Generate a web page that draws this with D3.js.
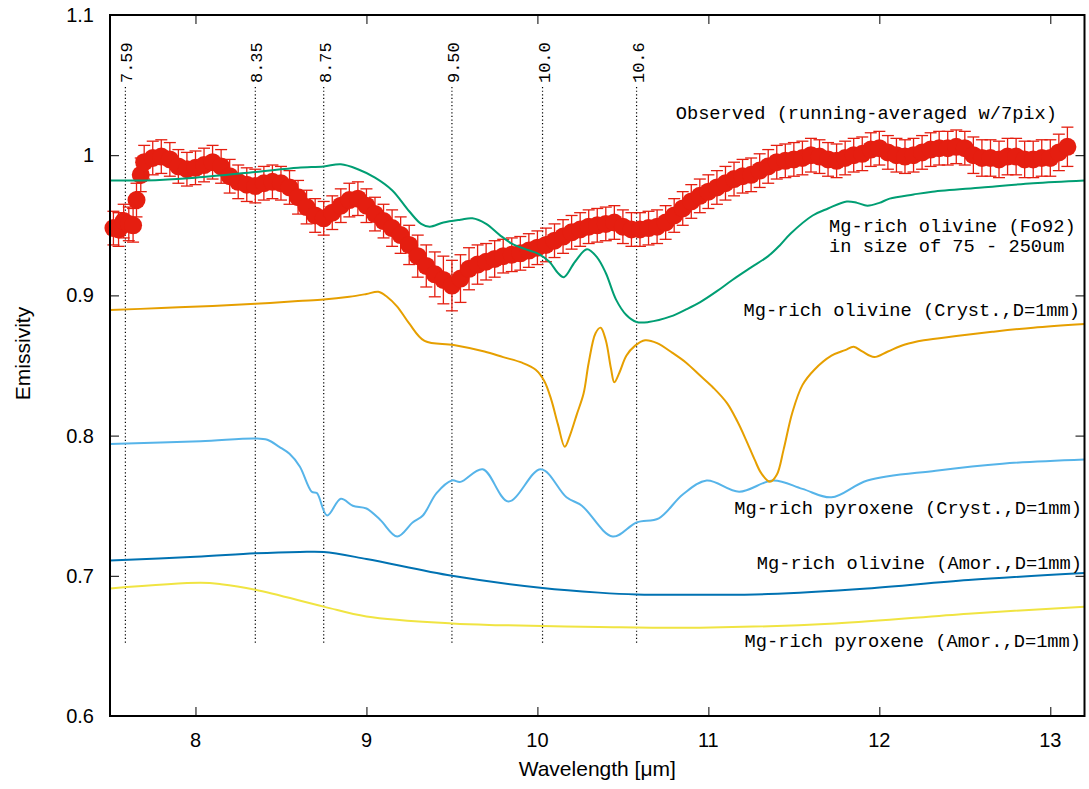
<!DOCTYPE html>
<html>
<head>
<meta charset="utf-8">
<script src="https://cdn.jsdelivr.net/npm/d3@7"></script>
<style>
  body { margin: 0; background: #fff; }
  .tick-label { font-family: "Liberation Sans", Arial, sans-serif; font-size: 20px; fill: #000; }
  .axis-title { font-family: "Liberation Sans", Arial, sans-serif; font-size: 21px; fill: #000; }
  .key { font-family: "Liberation Mono", monospace; font-size: 18.7px; fill: #000; }
  .mark-label { font-family: "Liberation Mono", monospace; font-size: 17px; fill: #000; }
</style>
</head>
<body>
<svg id="emissivity" width="1089" height="789"></svg>
<script>
// observed spectrum (running-averaged w/7pix)
var obsWave = [7.52, 7.55, 7.58, 7.61, 7.635, 7.655, 7.68, 7.70, 7.75, 7.80, 7.85, 7.90, 7.95, 8.00, 8.05, 8.10, 8.15, 8.20, 8.25, 8.30,
  8.35, 8.40, 8.45, 8.50, 8.55, 8.60, 8.65, 8.70, 8.75, 8.80, 8.85, 8.90, 8.95, 9.00, 9.05, 9.10, 9.15, 9.20, 9.25, 9.30,
  9.35, 9.40, 9.45, 9.50, 9.55, 9.60, 9.65, 9.70, 9.75, 9.80, 9.85, 9.90, 9.95, 10.00, 10.05, 10.10, 10.15, 10.20, 10.25, 10.30,
  10.35, 10.40, 10.45, 10.50, 10.55, 10.60, 10.65, 10.70, 10.75, 10.80, 10.85, 10.90, 10.95, 11.00, 11.05, 11.10, 11.15, 11.20, 11.25, 11.30,
  11.35, 11.40, 11.45, 11.50, 11.55, 11.60, 11.65, 11.70, 11.75, 11.80, 11.85, 11.90, 11.95, 12.00, 12.05, 12.10, 12.15, 12.20, 12.25, 12.30,
  12.35, 12.40, 12.45, 12.50, 12.55, 12.60, 12.65, 12.70, 12.75, 12.80, 12.85, 12.90, 12.95, 13.00, 13.05, 13.10];
var obsValue = [0.948, 0.947, 0.953, 0.951, 0.950, 0.968, 0.986, 0.995, 0.998, 0.999, 0.997, 0.992, 0.990, 0.991, 0.993, 0.995, 0.992, 0.985, 0.981, 0.979,
  0.978, 0.980, 0.981, 0.980, 0.977, 0.970, 0.963, 0.957, 0.955, 0.959, 0.964, 0.968, 0.969, 0.964, 0.958, 0.953, 0.948, 0.943, 0.936, 0.928,
  0.921, 0.915, 0.911, 0.907, 0.912, 0.919, 0.922, 0.924, 0.926, 0.928, 0.929, 0.930, 0.932, 0.934, 0.936, 0.939, 0.942, 0.945, 0.947, 0.949,
  0.950, 0.951, 0.952, 0.949, 0.947, 0.947, 0.948, 0.949, 0.952, 0.957, 0.962, 0.967, 0.971, 0.974, 0.977, 0.980, 0.983, 0.985, 0.986, 0.989,
  0.992, 0.995, 0.996, 0.997, 0.998, 1.000, 0.999, 0.997, 0.996, 0.998, 1.000, 1.001, 1.004, 1.005, 1.002, 1.000, 0.999, 1.000, 1.002, 1.004,
  1.005, 1.005, 1.006, 1.005, 1.000, 0.998, 0.998, 0.997, 0.999, 0.999, 0.997, 0.997, 0.998, 0.998, 1.002, 1.006];
var obsError = [0.012, 0.012, 0.012, 0.012, 0.012, 0.012, 0.012, 0.012, 0.012, 0.012, 0.012, 0.012, 0.012, 0.012, 0.012, 0.012, 0.012, 0.012, 0.012, 0.012,
  0.012, 0.012, 0.012, 0.012, 0.012, 0.012, 0.012, 0.012, 0.012, 0.012, 0.012, 0.012, 0.012, 0.012, 0.012, 0.012, 0.013, 0.013, 0.014, 0.015,
  0.015, 0.016, 0.017, 0.018, 0.017, 0.015, 0.014, 0.013, 0.013, 0.012, 0.012, 0.012, 0.012, 0.012, 0.012, 0.012, 0.012, 0.012, 0.012, 0.012,
  0.012, 0.012, 0.012, 0.012, 0.012, 0.012, 0.012, 0.012, 0.012, 0.012, 0.012, 0.012, 0.012, 0.012, 0.012, 0.012, 0.012, 0.012, 0.012, 0.012,
  0.012, 0.012, 0.012, 0.012, 0.012, 0.012, 0.012, 0.012, 0.012, 0.012, 0.012, 0.012, 0.012, 0.012, 0.012, 0.012, 0.012, 0.012, 0.012, 0.012,
  0.012, 0.012, 0.012, 0.012, 0.013, 0.013, 0.013, 0.013, 0.013, 0.013, 0.013, 0.013, 0.013, 0.013, 0.013, 0.014];

// Mg-rich olivine (Fo92), 75 - 250um
var foWave = [7.50, 7.70, 8.00, 8.35, 8.60, 8.75, 8.85, 8.95, 9.05, 9.15, 9.25, 9.32, 9.37, 9.45, 9.55, 9.62, 9.70, 9.78, 9.85, 9.93,
  10.00, 10.07, 10.12, 10.155, 10.22, 10.29, 10.35, 10.40, 10.46, 10.52, 10.58, 10.65, 10.78, 10.87, 10.95, 11.05, 11.14, 11.25, 11.35, 11.42,
  11.48, 11.61, 11.70, 11.81, 11.87, 11.93, 12.00, 12.06, 12.20, 12.31, 12.60, 12.90, 13.20];
var foValue = [0.982, 0.982, 0.984, 0.988, 0.991, 0.992, 0.9935, 0.990, 0.984, 0.975, 0.960, 0.951, 0.949, 0.952, 0.954, 0.955, 0.951, 0.943, 0.937, 0.933,
  0.930, 0.924, 0.916, 0.913, 0.924, 0.933, 0.927, 0.916, 0.897, 0.886, 0.881, 0.881, 0.885, 0.890, 0.895, 0.903, 0.911, 0.920, 0.928, 0.936,
  0.944, 0.957, 0.962, 0.967, 0.966, 0.964, 0.966, 0.969, 0.972, 0.974, 0.977, 0.980, 0.982];

// Mg-rich olivine (Cryst., D=1mm)
var olCrWave = [7.50, 7.80, 8.10, 8.35, 8.60, 8.75, 8.90, 9.00, 9.07, 9.12, 9.18, 9.25, 9.34, 9.51, 9.69, 9.80, 9.91, 9.99, 10.04, 10.08,
  10.12, 10.16, 10.19, 10.23, 10.27, 10.30, 10.34, 10.37, 10.40, 10.43, 10.45, 10.48, 10.52, 10.57, 10.63, 10.70, 10.79, 10.87, 10.95, 11.03,
  11.11, 11.17, 11.22, 11.27, 11.31, 11.36, 11.40, 11.44, 11.49, 11.55, 11.62, 11.72, 11.80, 11.85, 11.90, 11.97, 12.05, 12.15, 12.26,
  12.45, 12.66, 12.90, 13.20];
var olCrValue = [0.8895, 0.891, 0.8925, 0.894, 0.896, 0.897, 0.899, 0.901, 0.9026, 0.899, 0.892, 0.880, 0.8675, 0.8646, 0.860, 0.856, 0.852, 0.847, 0.839, 0.826,
  0.808, 0.792, 0.800, 0.815, 0.830, 0.852, 0.873, 0.877, 0.868, 0.848, 0.838, 0.845, 0.857, 0.864, 0.868, 0.866, 0.859, 0.852, 0.843, 0.834,
  0.823, 0.810, 0.797, 0.783, 0.773, 0.767, 0.772, 0.790, 0.816, 0.836, 0.847, 0.857, 0.861, 0.8634, 0.860, 0.856, 0.860, 0.865, 0.868,
  0.871, 0.874, 0.877, 0.8796];

// Mg-rich pyroxene (Cryst., D=1mm)
var pxCrWave = [7.50, 8.03, 8.35, 8.42, 8.49, 8.55, 8.61, 8.68, 8.71, 8.77, 8.85, 8.92, 9.00, 9.08, 9.18, 9.27, 9.33, 9.41, 9.50, 9.55,
  9.68, 9.83, 10.02, 10.17, 10.26, 10.44, 10.58, 10.71, 10.85, 10.99, 11.18, 11.38, 11.55, 11.72, 11.93, 12.33, 12.72, 13.20];
var pxCrValue = [0.794, 0.796, 0.798, 0.797, 0.792, 0.787, 0.778, 0.760, 0.759, 0.743, 0.755, 0.750, 0.748, 0.740, 0.728, 0.738, 0.743, 0.759, 0.768, 0.767,
  0.776, 0.753, 0.776, 0.756, 0.750, 0.728, 0.738, 0.741, 0.758, 0.768, 0.760, 0.768, 0.762, 0.756, 0.768, 0.775, 0.780, 0.783];

// Mg-rich olivine (Amor., D=1mm)
var olAmWave = [7.50, 8.00, 8.35, 8.61, 8.75, 9.00, 9.50, 10.03, 10.36, 10.58, 11.00, 11.35, 11.93, 12.52, 13.20];
var olAmValue = [0.711, 0.7135, 0.716, 0.717, 0.717, 0.712, 0.700, 0.6913, 0.688, 0.6867, 0.6865, 0.687, 0.691, 0.697, 0.702];

// Mg-rich pyroxene (Amor., D=1mm)
var pxAmWave = [7.50, 8.03, 8.15, 8.35, 8.75, 9.00, 9.50, 9.78, 10.36, 10.95, 11.74, 12.52, 13.20];
var pxAmValue = [0.691, 0.695, 0.694, 0.690, 0.678, 0.671, 0.666, 0.6648, 0.6635, 0.663, 0.666, 0.673, 0.678];

// marked wavelengths (dotted lines)
var markWave = [7.59, 8.35, 8.75, 9.50, 10.03, 10.58];
var markLabel = ["7.59", "8.35", "8.75", "9.50", "10.0", "10.6"];

var xTicks = [8, 9, 10, 11, 12, 13];
var yTicks = [0.6, 0.7, 0.8, 0.9, 1.0, 1.1];
var yTickLabels = ["0.6", "0.7", "0.8", "0.9", "1", "1.1"];

var svg = d3.select("#emissivity"),
  margin = { top: 15, right: 4.5, bottom: 73, left: 110 },
  width = +svg.attr("width") - margin.left - margin.right,
  height = +svg.attr("height") - margin.top - margin.bottom;

var x = d3.scaleLinear().domain([7.5, 13.2]).range([0, width]),
  y = d3.scaleLinear().domain([0.6, 1.1]).range([height, 0]);

var g = svg.append("g")
  .attr("transform", "translate(" + margin.left + "," + margin.top + ")");

// ticks on all four sides, pointing in
g.append("g").call(d3.axisBottom(x).tickValues(xTicks).tickSize(-9).tickFormat(""))
  .attr("transform", "translate(0," + height + ")");
g.append("g").call(d3.axisTop(x).tickValues(xTicks).tickSize(-9).tickFormat(""));
g.append("g").call(d3.axisLeft(y).tickValues(yTicks).tickSize(-9).tickFormat(""));
g.append("g").call(d3.axisRight(y).tickValues(yTicks).tickSize(-9).tickFormat(""))
  .attr("transform", "translate(" + width + ",0)");
g.selectAll(".domain").remove();
g.selectAll(".tick line").attr("stroke", "#000").attr("stroke-width", 1);

g.selectAll(".xlab")
  .data(xTicks)
  .enter().append("text")
  .attr("class", "tick-label")
  .attr("x", function (d) { return x(d); })
  .attr("y", height + 31)
  .attr("text-anchor", "middle")
  .text(function (d) { return d; });

g.selectAll(".ylab")
  .data(yTicks)
  .enter().append("text")
  .attr("class", "tick-label")
  .attr("x", -16)
  .attr("y", function (d) { return y(d); })
  .attr("dy", "0.35em")
  .attr("text-anchor", "end")
  .text(function (d, i) { return yTickLabels[i]; });

svg.append("text")
  .attr("class", "axis-title")
  .attr("x", margin.left + width / 2)
  .attr("y", 776)
  .attr("text-anchor", "middle")
  .text("Wavelength [\u03bcm]");

svg.append("text")
  .attr("class", "axis-title")
  .attr("transform", "translate(30," + (margin.top + height / 2 - 12) + ") rotate(-90)")
  .attr("text-anchor", "middle")
  .text("Emissivity");

// dotted marker lines with rotated labels
g.selectAll(".mark")
  .data(markWave)
  .enter().append("line")
  .attr("x1", function (d) { return x(d); })
  .attr("x2", function (d) { return x(d); })
  .attr("y1", y(1.0486))
  .attr("y2", y(0.6506))
  .attr("stroke", "#000")
  .attr("stroke-width", 1.2)
  .attr("stroke-dasharray", "1.2,2.4");

g.selectAll(".mark-label")
  .data(markWave)
  .enter().append("text")
  .attr("class", "mark-label")
  .attr("transform", function (d) { return "translate(" + (x(d) + 7) + "," + (y(1.0486) - 4) + ") rotate(-90)"; })
  .text(function (d, i) { return markLabel[i]; });

// observed points with error bars
var obs = obsWave.map(function (w, i) { return { w: w, v: obsValue[i], e: obsError[i] }; });
var red = "#e51e10";

var pts = g.append("g").selectAll(".obs")
  .data(obs)
  .enter().append("g");

pts.append("line")
  .attr("x1", function (d) { return x(d.w); })
  .attr("x2", function (d) { return x(d.w); })
  .attr("y1", function (d) { return y(d.v + d.e); })
  .attr("y2", function (d) { return y(d.v - d.e); })
  .attr("stroke", red).attr("stroke-width", 1.3);
pts.append("line")
  .attr("x1", function (d) { return x(d.w) - 6; })
  .attr("x2", function (d) { return x(d.w) + 6; })
  .attr("y1", function (d) { return y(d.v + d.e); })
  .attr("y2", function (d) { return y(d.v + d.e); })
  .attr("stroke", red).attr("stroke-width", 1.3);
pts.append("line")
  .attr("x1", function (d) { return x(d.w) - 6; })
  .attr("x2", function (d) { return x(d.w) + 6; })
  .attr("y1", function (d) { return y(d.v - d.e); })
  .attr("y2", function (d) { return y(d.v - d.e); })
  .attr("stroke", red).attr("stroke-width", 1.3);
pts.append("circle")
  .attr("cx", function (d) { return x(d.w); })
  .attr("cy", function (d) { return y(d.v); })
  .attr("r", 9)
  .attr("fill", red);

// model curves
var line = d3.line()
  .x(function (d) { return x(d[0]); })
  .y(function (d) { return y(d[1]); })
  .curve(d3.curveCatmullRom.alpha(0.5));

var curves = [
  { wave: pxCrWave, value: pxCrValue, color: "#56b4e9" },
  { wave: olAmWave, value: olAmValue, color: "#0072b2" },
  { wave: pxAmWave, value: pxAmValue, color: "#f0e442" },
  { wave: olCrWave, value: olCrValue, color: "#e69f00" },
  { wave: foWave, value: foValue, color: "#009e73" }
];

curves.forEach(function (c) {
  g.append("path")
    .datum(c.wave.map(function (w, i) { return [w, c.value[i]]; }))
    .attr("fill", "none")
    .attr("stroke", c.color)
    .attr("stroke-width", 2)
    .attr("d", line);
});

// frame
g.append("rect")
  .attr("width", width)
  .attr("height", height)
  .attr("fill", "none")
  .attr("stroke", "#000")
  .attr("stroke-width", 2);

// key labels
var keyText = ["Observed (running-averaged w/7pix)", "Mg-rich olivine (Fo92)", "in size of 75 - 250um",
  "Mg-rich olivine (Cryst.,D=1mm)", "Mg-rich pyroxene (Cryst.,D=1mm)", "Mg-rich olivine (Amor.,D=1mm)", "Mg-rich pyroxene (Amor.,D=1mm)"];
var keyX = [1057, 829, 829, 1080, 1082, 1082, 1081],
  keyY = [119, 232, 252, 316, 514, 569, 647],
  keyAnchor = ["end", "start", "start", "end", "end", "end", "end"];

svg.selectAll(".key")
  .data(keyText)
  .enter().append("text")
  .attr("class", "key")
  .attr("x", function (d, i) { return keyX[i]; })
  .attr("y", function (d, i) { return keyY[i]; })
  .attr("text-anchor", function (d, i) { return keyAnchor[i]; })
  .text(function (d) { return d; });
</script>
</body>
</html>
